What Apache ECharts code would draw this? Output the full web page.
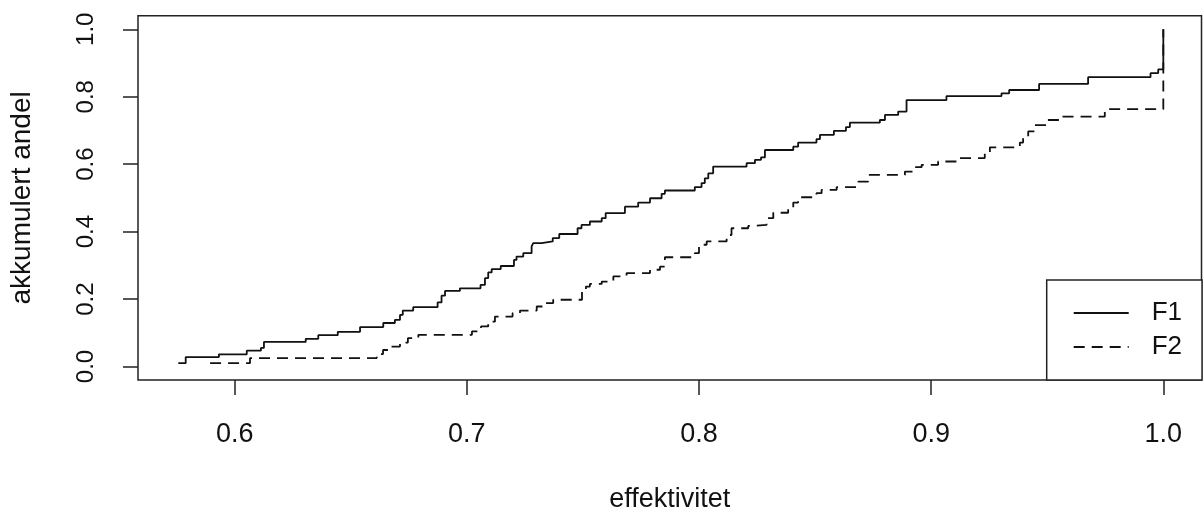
<!DOCTYPE html>
<html>
<head>
<meta charset="utf-8">
<script src="https://cdn.jsdelivr.net/npm/echarts@6/dist/echarts.min.js"></script>
<style>
html,body{margin:0;padding:0;background:#fff;}
#chart{width:1203px;height:518px;}
</style>
</head>
<body>
<div id="chart"></div>
<script>
// ---- data (step points: x = effektivitet, y = akkumulert andel) ----
const seriesNames = ['F1', 'F2'];
const f1X = [0.5757,0.5789,0.5932,0.6052,0.6113,0.6126,0.6306,0.6360,0.6444,0.6540,
             0.6640,0.6690,0.6712,0.6724,0.6769,0.6874,0.6891,0.6906,0.6970,0.7059,
             0.7078,0.7092,0.7107,0.7146,0.7203,0.7214,0.7243,0.7279,0.7286,0.7322,
             0.7370,0.7398,0.7477,0.7494,0.7530,0.7581,0.7598,0.7681,0.7738,0.7789,
             0.7839,0.7853,0.7982,0.8011,0.8025,0.8040,0.8061,0.8205,0.8241,0.8267,
             0.8284,0.8406,0.8427,0.8506,0.8521,0.8581,0.8633,0.8650,0.8779,0.8801,
             0.8858,0.8894,0.9066,0.9303,0.9336,0.9465,0.9676,0.9945,0.9978,1.0000];
const f1Y = [0.010,0.028,0.036,0.047,0.055,0.073,0.082,0.093,0.103,0.117,
             0.129,0.138,0.153,0.166,0.176,0.190,0.210,0.224,0.232,0.242,
             0.262,0.279,0.289,0.298,0.316,0.326,0.336,0.356,0.366,0.371,
             0.381,0.393,0.410,0.420,0.430,0.440,0.455,0.474,0.486,0.499,
             0.512,0.522,0.532,0.544,0.558,0.573,0.593,0.603,0.613,0.620,
             0.642,0.652,0.664,0.674,0.687,0.699,0.710,0.723,0.731,0.746,
             0.756,0.790,0.802,0.810,0.820,0.838,0.858,0.870,0.881,1.000];
const f2X = [0.5894,0.6066,0.6612,0.6639,0.6669,0.6712,0.6746,0.6791,0.7022,0.7061,
             0.7092,0.7121,0.7197,0.7229,0.7301,0.7336,0.7372,0.7496,0.7513,0.7530,
             0.7581,0.7631,0.7688,0.7789,0.7832,0.7853,0.7982,0.8000,0.8033,0.8119,
             0.8140,0.8212,0.8241,0.8291,0.8320,0.8384,0.8406,0.8427,0.8506,0.8528,
             0.8593,0.8686,0.8729,0.8887,0.8930,0.8959,0.9030,0.9109,0.9231,0.9253,
             0.9382,0.9396,0.9418,0.9447,0.9500,0.9554,0.9748,1.0000];
const f2Y = [0.010,0.025,0.037,0.049,0.059,0.071,0.084,0.094,0.104,0.119,
             0.133,0.148,0.158,0.166,0.178,0.188,0.198,0.222,0.237,0.245,
             0.252,0.267,0.277,0.287,0.296,0.324,0.336,0.361,0.371,0.390,
             0.410,0.417,0.420,0.440,0.456,0.469,0.486,0.502,0.514,0.524,
             0.532,0.548,0.568,0.578,0.591,0.598,0.608,0.618,0.632,0.650,
             0.664,0.680,0.697,0.716,0.731,0.741,0.763,1.000];
const xTicks = [0.6, 0.7, 0.8, 0.9, 1.0];
const yTicks = [0.0, 0.2, 0.4, 0.6, 0.8, 1.0];
const xTitle = 'effektivitet';
const yTitle = 'akkumulert andel';

const pairs = (xs, ys) => xs.map((x, i) => [x, ys[i]]);
const FONT = 'Liberation Sans, Arial, sans-serif';
const INK = '#111';

const chart = echarts.init(document.getElementById('chart'), null, {renderer: 'canvas'});
chart.setOption({
  animation: false,
  backgroundColor: '#fff',
  grid: {left: 138, right: 1.5, top: 15.8, bottom: 137.8, show: true,
         borderColor: '#222', borderWidth: 1.5, backgroundColor: 'transparent'},
  xAxis: {
    type: 'value', min: 0.55835, max: 1.01645,
    name: xTitle, nameLocation: 'middle', nameGap: 106,
    nameTextStyle: {fontFamily: FONT, fontSize: 27, color: INK},
    axisLine: {show: false, onZero: false},
    splitLine: {show: false},
    axisTick: {show: true, inside: false, customValues: xTicks, length: 15,
               lineStyle: {color: '#222', width: 1.5}},
    axisLabel: {customValues: xTicks, formatter: v => v.toFixed(1), margin: 41,
                fontFamily: FONT, fontSize: 27, color: INK}
  },
  yAxis: {
    type: 'value', min: -0.04, max: 1.04,
    name: yTitle, nameLocation: 'middle', nameGap: 102, nameRotate: 90,
    nameTextStyle: {fontFamily: FONT, fontSize: 28, color: INK},
    axisLine: {show: false, onZero: false},
    splitLine: {show: false},
    axisTick: {show: true, inside: false, customValues: yTicks, length: 15,
               lineStyle: {color: '#222', width: 1.5}},
    axisLabel: {customValues: yTicks, formatter: v => v.toFixed(1), rotate: 90, margin: 40,
                fontFamily: FONT, fontSize: 24, color: INK}
  },
  legend: {
    orient: 'vertical', left: 1046.7, top: 280,
    data: seriesNames,
    padding: [20, 20, 20, 26], itemGap: 8, itemWidth: 55, itemHeight: 14,
    borderColor: '#222', borderWidth: 1.5, backgroundColor: '#fff',
    itemStyle: {opacity: 0},
    textStyle: {fontFamily: FONT, fontSize: 26, color: INK, padding: [0, 0, 0, 18]}
  },
  series: [
    {name: seriesNames[0], type: 'line', step: 'end', data: pairs(f1X, f1Y),
     symbol: 'none', showSymbol: false, z: 3,
     lineStyle: {color: INK, width: 1.8, type: 'solid'}, itemStyle: {color: INK}},
    {name: seriesNames[1], type: 'line', step: 'end', data: pairs(f2X, f2Y),
     symbol: 'none', showSymbol: false, z: 2,
     lineStyle: {color: INK, width: 1.8, type: [11, 7]}, itemStyle: {color: INK}}
  ]
});
</script>
</body>
</html>
